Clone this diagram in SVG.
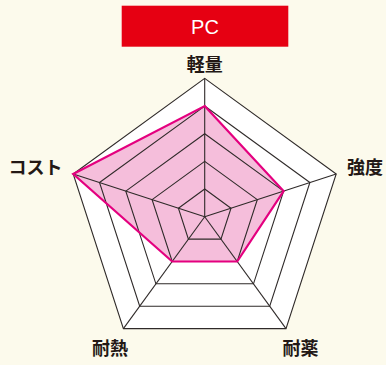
<svg xmlns="http://www.w3.org/2000/svg" width="386" height="365" viewBox="0 0 386 365">
<style>
.lbl{font-family:"Noto Sans CJK JP","Noto Sans",sans-serif;font-size:18px;font-weight:700;fill:#231815;text-anchor:middle}
.grid{fill:none;stroke:#2f2a29;stroke-width:1.1}
</style>
<rect width="386" height="365" fill="#fcfaec"/>
<g id="title">
<rect x="121.7" y="5.7" width="166.6" height="41" fill="#e60012"/>
<text x="205" y="34" font-family="'Liberation Sans',Arial,sans-serif" font-size="20" fill="#ffffff" text-anchor="middle">PC</text>
</g>
<g id="chart">
<polygon points="204.7,78.4 336.2,174.0 286.0,328.6 123.4,328.6 73.2,174.0" fill="#ffffff"/>
<polygon id="data-fill" points="204.7,106.06 283.6,191.1 237.2,261.5 172.2,261.5 73.2,174.0" fill="#f5bedb"/>
<g class="grid">
<polygon points="204.7,78.4 336.2,174.0 286.0,328.6 123.4,328.6 73.2,174.0"/>
<polygon points="204.7,106.06 309.9,182.5 269.7,306.2 139.7,306.2 99.5,182.5"/>
<polygon points="204.7,133.7 283.6,191.1 253.5,283.8 155.9,283.8 125.8,191.1"/>
<polygon points="204.7,161.4 257.3,199.6 237.2,261.5 172.2,261.5 152.1,199.6"/>
<polygon points="204.7,189.0 231.0,208.2 220.96,239.1 188.4,239.1 178.4,208.2"/>
<line x1="204.7" y1="216.7" x2="204.7" y2="78.4"/>
<line x1="204.7" y1="216.7" x2="336.2" y2="174.0"/>
<line x1="204.7" y1="216.7" x2="286.0" y2="328.6"/>
<line x1="204.7" y1="216.7" x2="123.4" y2="328.6"/>
<line x1="204.7" y1="216.7" x2="73.2" y2="174.0"/>
</g>
<polygon id="data-line" points="204.7,106.06 283.6,191.1 237.2,261.5 172.2,261.5 73.2,174.0" fill="none" stroke="#e4007f" stroke-width="2.2" stroke-linejoin="miter"/>
</g>
<g id="label-keiryo"><text class="lbl" x="204.7" y="71">軽量</text></g>
<g id="label-kyodo"><text class="lbl" x="365" y="174">強度</text></g>
<g id="label-taiyaku"><text class="lbl" x="300.5" y="355">耐薬</text></g>
<g id="label-tainetsu"><text class="lbl" x="110" y="355">耐熱</text></g>
<g id="label-cost"><text class="lbl" x="35.5" y="174">コスト</text></g>
</svg>
